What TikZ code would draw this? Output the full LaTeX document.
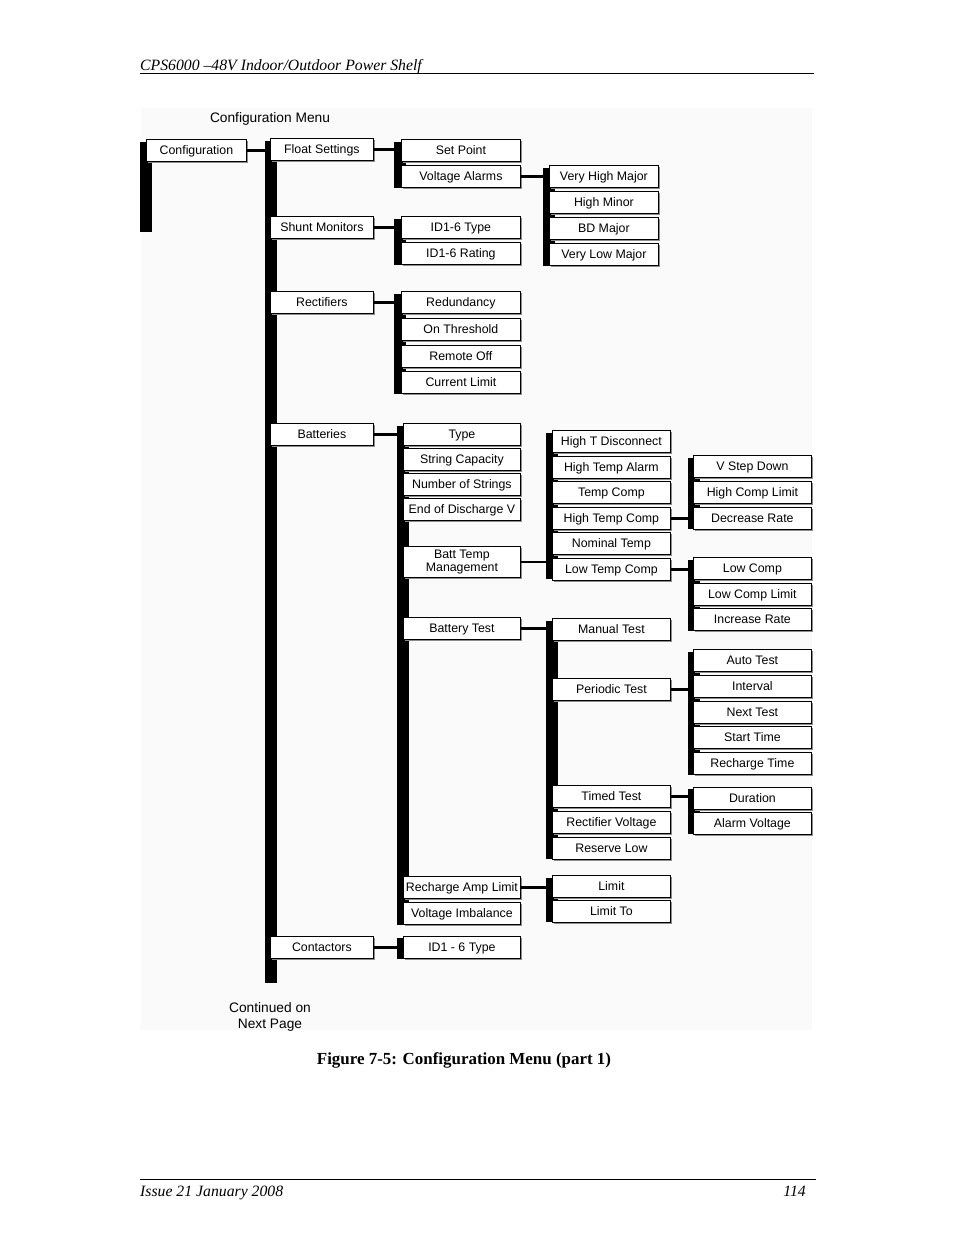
\documentclass[tikz,border=0pt]{standalone}
\usepackage{fontspec}
\setmainfont{Liberation Serif}
\setsansfont{Liberation Sans}
\usetikzlibrary{shadows}
\newcommand\mkbox[6]{\node[mbox, minimum width=#4bp, minimum height=#5bp] (#1) at (#2,#3) {#6};}
\newcommand\mkbar[4]{\node[barst, minimum height=#4bp-#3bp] (#1) at (#2,#3) {};}
\begin{document}
\begin{tikzpicture}[x=1bp,y=-1bp,
  mbox/.style={draw=black, line width=0.8bp, fill=white, inner sep=0pt, anchor=north west,
    font=\sffamily\fontsize{12.4}{14}\selectfont, text height=10bp, text depth=1.5bp, align=center,
    drop shadow={shadow xshift=1.1bp, shadow yshift=-1.1bp, fill=black!45, opacity=1}},
  barst/.style={fill=black, draw=none, inner sep=0pt, anchor=north west, minimum width=12bp},
  conn/.style={line width=3bp},
  plain/.style={inner sep=0pt, font=\sffamily\fontsize{13.8}{16}\selectfont}]
\useasboundingbox (0,0) rectangle (954,1235);
\fill[black!2] (141,108) rectangle (812,1030);

% header and footer
\node[anchor=base west, inner sep=0pt, font=\itshape\fontsize{15.8}{18}\selectfont] (hdr) at (140,70) {CPS6000 \textendash48V Indoor/Outdoor Power Shelf};
\draw[line width=0.9bp] (140,73.5) -- (814,73.5);
\draw[line width=0.9bp] (140,1179.5) -- (816,1179.5);
\node[anchor=base west, inner sep=0pt, font=\itshape\fontsize{15.8}{18}\selectfont] (ftl) at (140,1196) {Issue 21 January 2008};
\node[anchor=base east, inner sep=0pt, font=\itshape\fontsize{15.8}{18}\selectfont] (ftr) at (806,1196) {114};
\node[anchor=base, inner sep=0pt, font=\bfseries\fontsize{17}{20}\selectfont] (cap) at (464,1064.5) {Figure 7-5: Configuration Menu (part 1)};

\node[plain, anchor=base] (title) at (270,122) {Configuration Menu};
\node[plain, anchor=base] (cont1) at (270,1012) {Continued on};
\node[plain, anchor=base] (cont2) at (270,1028) {Next Page};

% bars
\mkbar{b0}{140}{142}{232}
\mkbar{b1}{265}{141}{983}
\mkbar{bfs}{394}{142}{188}
\mkbar{bsm}{394}{219}{265}
\mkbar{brc}{394}{294}{394}
\mkbar{bbt}{397}{426}{925}
\mkbar{bct}{397}{938}{959}
\mkbar{bva}{543}{168}{266}
\mkbar{bbtm}{546}{433}{579}
\mkbar{bbtt}{546}{621}{859}
\mkbar{bral}{546}{878}{922}
\mkbar{bhtc}{688}{458}{529}
\mkbar{bltc}{688}{560}{631}
\mkbar{bpt}{688}{652}{775}
\mkbar{btimed}{688}{789}{834}

% level 0
\mkbox{cfg}{146}{139}{100}{22}{Configuration}
% level 1
\mkbox{fs}{270}{138}{103}{22}{Float Settings}
\mkbox{sm}{270}{216}{103}{22}{Shunt Monitors}
\mkbox{rc}{270}{291}{103}{22}{Rectifiers}
\mkbox{bt}{270}{423}{103}{22}{Batteries}
\mkbox{ct}{270}{936}{103}{22}{Contactors}
% level 2
\mkbox{sp}{401}{139}{119}{22}{Set Point}
\mkbox{va}{401}{165}{119}{22}{Voltage Alarms}
\mkbox{ida}{401}{216}{119}{22}{ID1-6 Type}
\mkbox{idb}{401}{242}{119}{22}{ID1-6 Rating}
\mkbox{rd}{401}{291}{119}{22}{Redundancy}
\mkbox{ot}{401}{318}{119}{22}{On Threshold}
\mkbox{ro}{401}{345}{119}{22}{Remote Off}
\mkbox{cl}{401}{371}{119}{22}{Current Limit}
\mkbox{ty}{403}{423}{117}{22}{Type}
\mkbox{sc}{403}{448}{117}{22}{String Capacity}
\mkbox{ns}{403}{473}{117}{22}{Number of Strings}
\mkbox{ed}{403}{498}{117}{22}{End of Discharge V}
\node[mbox, minimum width=117bp, minimum height=31bp, text height=, text depth=, font=\sffamily\fontsize{12.4}{13}\selectfont] (btm) at (403,546) {Batt Temp\\Management};
\mkbox{btt}{403}{617}{117}{22}{Battery Test}
\mkbox{ral}{403}{876}{117}{22}{Recharge Amp Limit}
\mkbox{vi}{403}{902}{117}{22}{Voltage Imbalance}
\mkbox{cid}{403}{936}{117}{22}{ID1 - 6 Type}
% level 3
\mkbox{vhm}{549}{165}{109}{22}{Very High Major}
\mkbox{hmi}{549}{191}{109}{22}{High Minor}
\mkbox{bdm}{549}{217}{109}{22}{BD Major}
\mkbox{vlm}{549}{243}{109}{22}{Very Low Major}
\mkbox{htd}{552}{430}{118}{22}{High T Disconnect}
\mkbox{hta}{552}{456}{118}{22}{High Temp Alarm}
\mkbox{tc}{552}{481}{118}{22}{Temp Comp}
\mkbox{htc}{552}{507}{118}{22}{High Temp Comp}
\mkbox{nt}{552}{532}{118}{22}{Nominal Temp}
\mkbox{ltc}{552}{558}{118}{22}{Low Temp Comp}
\mkbox{mt}{552}{618}{118}{22}{Manual Test}
\mkbox{pt}{552}{678}{118}{22}{Periodic Test}
\mkbox{tt}{552}{785}{118}{22}{Timed Test}
\mkbox{rv}{552}{811}{118}{22}{Rectifier Voltage}
\mkbox{rl}{552}{837}{118}{22}{Reserve Low}
\mkbox{lim}{552}{875}{118}{22}{Limit}
\mkbox{limt}{552}{900}{118}{22}{Limit To}
% level 4
\mkbox{vsd}{693}{455}{118}{22}{V Step Down}
\mkbox{hcl}{693}{481}{118}{22}{High Comp Limit}
\mkbox{dr}{693}{507}{118}{22}{Decrease Rate}
\mkbox{lc}{693}{557}{118}{22}{Low Comp}
\mkbox{lcl}{693}{583}{118}{22}{Low Comp Limit}
\mkbox{ir}{693}{608}{118}{22}{Increase Rate}
\mkbox{at}{693}{649}{118}{22}{Auto Test}
\mkbox{iv}{693}{675}{118}{22}{Interval}
\mkbox{nx}{693}{701}{118}{22}{Next Test}
\mkbox{st}{693}{726}{118}{22}{Start Time}
\mkbox{rt}{693}{752}{118}{22}{Recharge Time}
\mkbox{du}{693}{787}{118}{22}{Duration}
\mkbox{av}{693}{812}{118}{22}{Alarm Voltage}

% connectors
\draw[conn] (cfg.east) -- (b1.west |- cfg.east);
\draw[conn] (fs.east) -- (bfs.west |- fs.east);
\draw[conn] (sm.east) -- (bsm.west |- sm.east);
\draw[conn] (rc.east) -- (brc.west |- rc.east);
\draw[conn] (bt.east) -- (bbt.west |- bt.east);
\draw[conn] (ct.east) -- (bct.west |- ct.east);
\draw[conn] (va.east) -- (bva.west |- va.east);
\draw[line width=2.2bp] (btm.east) -- (bbtm.west |- btm.east);
\draw[conn] (btt.east) -- (bbtt.west |- btt.east);
\draw[conn] (ral.east) -- (bral.west |- ral.east);
\draw[conn] (htc.east) -- (bhtc.west |- htc.east);
\draw[conn] (ltc.east) -- (bltc.west |- ltc.east);
\draw[conn] (pt.east) -- (bpt.west |- pt.east);
\draw[conn] (tt.east) -- (btimed.west |- tt.east);
\end{tikzpicture}
\end{document}
